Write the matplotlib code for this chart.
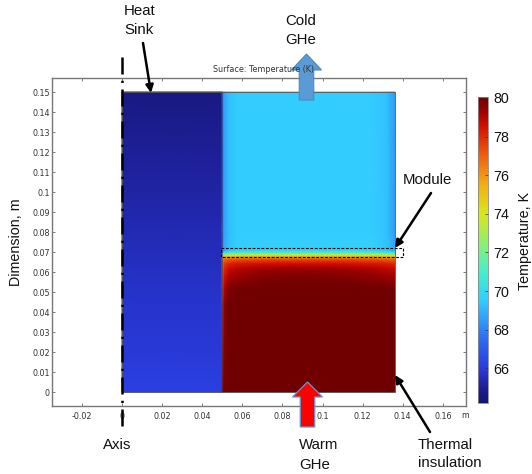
import matplotlib
matplotlib.use('Agg')
import matplotlib.pyplot as plt
from matplotlib.colors import LinearSegmentedColormap, Normalize
from matplotlib.patches import Rectangle, FancyArrow

# temperature colour scale
t_min, t_max = 64.2, 80.05
scale_temps = [64.2, 65.0, 66.0, 67.5, 69.5, 71.0, 72.5, 74.0, 75.5, 77.0, 78.5, 79.3, 80.05]
scale_cols = ['#14146e', '#1e1e96', '#2a3be0', '#2a6cf5', '#33ccff', '#45f0cc', '#8cf070',
              '#d8e818', '#f2b010', '#f06010', '#d81000', '#a00000', '#6e0000']
cbar_ticks = [66, 68, 70, 72, 74, 76, 78, 80]

# heat sink block
sink_x = [0.0, 0.05]
sink_y = [0.0, 0.05, 0.10, 0.15]
sink_T = [[66.1, 66.1],
          [65.7, 65.7],
          [65.2, 65.2],
          [64.6, 64.6]]

# gas + module block
gas_x = [0.05, 0.051, 0.053, 0.057, 0.07, 0.09, 0.11, 0.125, 0.132, 0.136]
gas_y = [0.0, 0.045, 0.052, 0.0585, 0.062, 0.0645, 0.0665, 0.0675, 0.0685, 0.0695, 0.0708, 0.08, 0.15]
gas_T = [
    [79.4, 80.0, 80.0, 80.0, 80.0, 80.0, 80.0, 80.0, 80.0, 80.0],
    [77.8, 79.4, 80.0, 80.0, 80.0, 80.0, 80.0, 80.0, 80.0, 80.0],
    [77.3, 79.0, 79.7, 79.9, 80.0, 80.0, 80.0, 80.0, 80.0, 79.9],
    [77.0, 78.4, 79.0, 79.3, 79.7, 79.8, 79.7, 79.5, 79.3, 79.2],
    [76.8, 78.0, 78.6, 78.9, 79.2, 79.3, 79.2, 79.0, 78.8, 78.7],
    [76.6, 77.6, 78.0, 78.3, 78.5, 78.5, 78.5, 78.3, 78.2, 78.0],
    [76.2, 76.8, 77.0, 77.2, 77.3, 77.3, 77.3, 77.2, 77.0, 76.8],
    [75.6, 76.0, 76.1, 76.2, 76.2, 76.2, 76.2, 76.2, 76.0, 75.8],
    [73.2, 73.6, 73.8, 73.9, 74.0, 74.0, 74.0, 73.9, 73.8, 73.5],
    [70.0, 70.8, 71.3, 71.6, 71.7, 71.7, 71.7, 71.7, 71.4, 71.0],
    [68.0, 68.8, 69.3, 69.6, 69.7, 69.7, 69.7, 69.7, 69.4, 68.8],
    [67.8, 68.6, 69.2, 69.5, 69.5, 69.5, 69.5, 69.5, 69.3, 68.5],
    [67.8, 68.6, 69.2, 69.5, 69.5, 69.5, 69.5, 69.5, 69.3, 68.5],
]

x_ticks = [-0.02, 0, 0.02, 0.04, 0.06, 0.08, 0.1, 0.12, 0.14, 0.16]
x_labels = ['-0.02', '0', '0.02', '0.04', '0.06', '0.08', '0.1', '0.12', '0.14', '0.16']
y_ticks = [i / 100 for i in range(16)]
y_labels = ['0', '0.01', '0.02', '0.03', '0.04', '0.05', '0.06', '0.07', '0.08', '0.09',
            '0.1', '0.11', '0.12', '0.13', '0.14', '0.15']

W, H = 532, 474
plt.rcParams['font.family'] = ['Liberation Sans', 'DejaVu Sans']


def box(l, t, r, b):
    # pixel box (y down) -> figure fraction
    return [l / W, 1 - b / H, (r - l) / W, (b - t) / H]


cmap = LinearSegmentedColormap.from_list(
    'rainbow_k', [((t - t_min) / (t_max - t_min), c) for t, c in zip(scale_temps, scale_cols)], N=512)
norm = Normalize(t_min, t_max)

fig = plt.figure(figsize=(W / 100, H / 100), dpi=100)

ax = fig.add_axes(box(52, 78, 465.5, 406))
ax.set_xlim(-0.0349, 0.1713)
ax.set_ylim(-0.007, 0.157)
ax.pcolormesh(sink_x, sink_y, sink_T, cmap=cmap, norm=norm, shading='gouraud')
ax.pcolormesh(gas_x, gas_y, gas_T, cmap=cmap, norm=norm, shading='gouraud')
ax.add_patch(Rectangle((0, 0), 0.136, 0.15, fill=False, ec='#555555', lw=0.6))
ax.plot([0.05, 0.05], [0, 0.15], color='#333366', lw=0.4)

ax.set_xticks(x_ticks, x_labels)
ax.set_yticks(y_ticks, y_labels)
ax.tick_params(direction='in', length=2.5, width=0.6, color='#666666', labelcolor='#333333',
               labelsize=5.8, top=True, right=True)
ax.tick_params(axis='x', pad=4)
ax.tick_params(axis='y', pad=1.5)
for lab in ax.get_xticklabels() + ax.get_yticklabels():
    lab.set_family('DejaVu Sans')
for s in ax.spines.values():
    s.set_color('#777777')
    s.set_linewidth(1.0)

cax = fig.add_axes(box(478, 97, 487.5, 403))
sm = plt.cm.ScalarMappable(norm=norm, cmap=cmap)
cb = fig.colorbar(sm, cax=cax, ticks=cbar_ticks)
cb.ax.tick_params(direction='in', length=2, width=0.5, color='#333333', labelsize=10.3, pad=4, labelcolor='#111111')
cb.outline.set_edgecolor('#888888')
cb.outline.set_linewidth(0.6)

# overlay in pixel coordinates for the hand-drawn callouts
ov = fig.add_axes([0, 0, 1, 1], facecolor='none')
ov.set_xlim(0, W)
ov.set_ylim(H, 0)
ov.axis('off')

ov.text(213, 69, 'Surface: Temperature (K)', family='DejaVu Sans', fontsize=5.8, color='#333333', va='center')
ov.plot([122, 122], [57, 432], color='black', lw=1.8, ls=(0, (6.8, 2.5, 0.9, 2.6)), dash_capstyle='butt')

ov.add_patch(Rectangle((221, 248), 182, 9, fill=False, ec='black', lw=0.8, ls=(0, (2.5, 1.5))))

for start, tip in [((143, 43), (151, 93)), ((431, 193), (395, 248)), ((430, 432), (395, 375))]:
    ov.annotate('', xy=tip, xytext=start,
                arrowprops=dict(arrowstyle='-|>,head_width=0.22,head_length=0.45', color='black', lw=1.8,
                                shrinkA=0, shrinkB=0))

ov.add_patch(FancyArrow(306.5, 100, 0, -46, width=14.5, head_width=30, head_length=16,
                        length_includes_head=True, fc='#5b9bd5', ec='#4f87ba', lw=0.8))
ov.add_patch(FancyArrow(307.5, 427, 0, -45, width=14.5, head_width=30, head_length=15,
                        length_includes_head=True, fc='#ff0000', ec='#5b9bd5', lw=0.9))

fs = 10.8
ov.text(124, 11, 'Heat', fontsize=fs, va='center', color='#111111')
ov.text(124, 30, 'Sink', fontsize=fs, va='center', color='#111111')
ov.text(285, 21, 'Cold', fontsize=fs, va='center', color='#111111')
ov.text(285, 40, 'GHe', fontsize=fs, va='center', color='#111111')
ov.text(403, 180, 'Module', fontsize=fs, va='center', color='#111111')
ov.text(103, 445, 'Axis', fontsize=fs, va='center', color='#111111')
ov.text(299, 445, 'Warm', fontsize=fs, va='center', color='#111111')
ov.text(299, 465, 'GHe', fontsize=fs, va='center', color='#111111')
ov.text(418, 445, 'Thermal', fontsize=fs, va='center', color='#111111')
ov.text(418, 463, 'insulation', fontsize=fs, va='center', color='#111111')
ov.text(16, 242, 'Dimension, m', fontsize=10.3, rotation=90, va='center', ha='center', color='#111111')
ov.text(525, 241, 'Temperature, K', fontsize=10.3, rotation=90, va='center', ha='center', color='#111111')
ov.text(461, 415, 'm', family='DejaVu Sans', fontsize=5.6, color='#333333', va='center')

fig.savefig('out.png', dpi=100)
